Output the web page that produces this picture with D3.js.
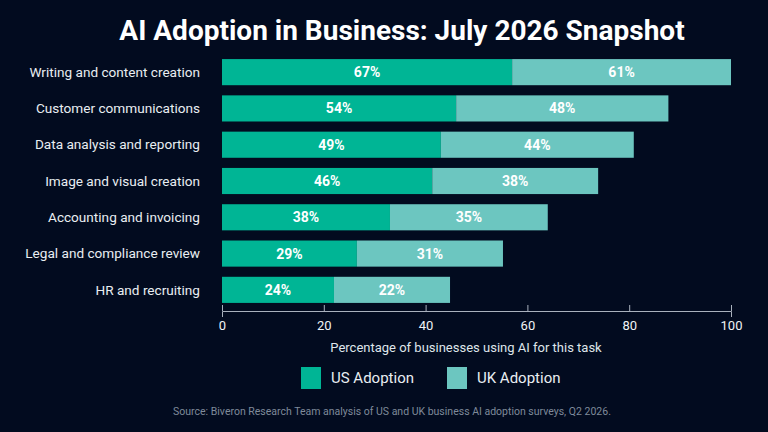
<!DOCTYPE html>
<html>
<head>
<meta charset="utf-8">
<script src="https://cdn.jsdelivr.net/npm/d3@7"></script>
<style>
  html, body { margin: 0; padding: 0; background: #020b1f; }
  svg { display: block; font-family: Roboto, "Noto Sans", sans-serif; }
</style>
</head>
<body>
<script>
// Task categories (top to bottom)
var categories = [
  "Writing and content creation",
  "Customer communications",
  "Data analysis and reporting",
  "Image and visual creation",
  "Accounting and invoicing",
  "Legal and compliance review",
  "HR and recruiting"
];

// Printed percentages
var usLabels = [67, 54, 49, 46, 38, 29, 24];
var ukLabels = [61, 48, 44, 38, 35, 31, 22];

// Segment lengths as drawn against the 0-100 axis
var usBar = [57, 46, 43, 41.3, 33, 26.5, 22];
var ukBar = [43, 41.7, 37.9, 32.6, 31, 28.7, 22.8];

var xTicks = [0, 20, 40, 60, 80, 100];

var width = 768, height = 432;
var margin = {top: 54, left: 222, right: 37, bottom: 124};

var svg = d3.select("body").append("svg")
    .attr("width", width)
    .attr("height", height);

svg.append("rect")
    .attr("width", width)
    .attr("height", height)
    .attr("fill", "#020b1f");

// title
svg.append("text")
    .attr("x", 402)
    .attr("y", 40)
    .attr("text-anchor", "middle")
    .attr("fill", "#ffffff")
    .style("font-size", "28px")
    .style("font-weight", "bold")
    .text("AI Adoption in Business: July 2026 Snapshot");

var x = d3.scaleLinear()
    .domain([0, 100])
    .range([margin.left, width - margin.right]);

var y = d3.scaleBand()
    .domain(categories)
    .range([margin.top, height - margin.bottom])
    .paddingInner(0.28)
    .paddingOuter(0.14);

var rows = categories.map(function(c, i) {
  return {cat: c, us: usBar[i], uk: ukBar[i], usLab: usLabels[i], ukLab: ukLabels[i]};
});

var row = svg.selectAll(".row")
    .data(rows)
  .enter().append("g")
    .attr("class", "row");

// US segment
row.append("rect")
    .attr("x", x(0))
    .attr("y", function(d) { return y(d.cat); })
    .attr("width", function(d) { return x(d.us) - x(0); })
    .attr("height", y.bandwidth())
    .attr("fill", "#00b595");

// UK segment stacked on top
row.append("rect")
    .attr("x", function(d) { return x(d.us); })
    .attr("y", function(d) { return y(d.cat); })
    .attr("width", function(d) { return x(d.us + d.uk) - x(d.us); })
    .attr("height", y.bandwidth())
    .attr("fill", "#6cc6c0");

row.append("text")
    .attr("x", function(d) { return (x(0) + x(d.us)) / 2; })
    .attr("y", function(d) { return y(d.cat) + y.bandwidth() / 2; })
    .attr("dy", "0.36em")
    .attr("text-anchor", "middle")
    .attr("fill", "#ffffff")
    .style("font-size", "14px")
    .style("font-weight", "bold")
    .text(function(d) { return d.usLab + "%"; });

row.append("text")
    .attr("x", function(d) { return (x(d.us) + x(d.us + d.uk)) / 2; })
    .attr("y", function(d) { return y(d.cat) + y.bandwidth() / 2; })
    .attr("dy", "0.36em")
    .attr("text-anchor", "middle")
    .attr("fill", "#ffffff")
    .style("font-size", "14px")
    .style("font-weight", "bold")
    .text(function(d) { return d.ukLab + "%"; });

// category labels
row.append("text")
    .attr("x", 200)
    .attr("y", function(d) { return y(d.cat) + y.bandwidth() / 2; })
    .attr("dy", "0.35em")
    .attr("text-anchor", "end")
    .attr("fill", "#e9eef2")
    .style("font-size", "13.6px")
    .text(function(d) { return d.cat; });

// x axis
var xAxis = svg.append("g")
    .attr("transform", "translate(0," + 311 + ")")
    .call(d3.axisBottom(x).tickValues(xTicks).tickSize(6).tickSizeOuter(6).tickPadding(4));

xAxis.select(".domain").attr("stroke", "#a9b1bd");
xAxis.selectAll(".tick line").attr("stroke", "#a9b1bd").attr("y1", -6).attr("y2", 0);
xAxis.selectAll(".tick text")
    .attr("fill", "#f0f3f6")
    .style("font-size", "13px")
    .style("font-family", "Roboto, sans-serif");

svg.append("text")
    .attr("x", 466)
    .attr("y", 352)
    .attr("text-anchor", "middle")
    .attr("fill", "#dfe5ea")
    .style("font-size", "13px")
    .text("Percentage of businesses using AI for this task");

// legend
var legendItems = [
  {name: "US Adoption", color: "#00b595", x: 301},
  {name: "UK Adoption", color: "#6cc6c0", x: 447}
];

var legend = svg.selectAll(".legend")
    .data(legendItems)
  .enter().append("g")
    .attr("class", "legend")
    .attr("transform", function(d) { return "translate(" + d.x + ",367)"; });

legend.append("rect")
    .attr("width", 20)
    .attr("height", 22)
    .attr("fill", function(d) { return d.color; });

legend.append("text")
    .attr("x", 30)
    .attr("y", 11)
    .attr("dy", "0.36em")
    .attr("fill", "#e9eef2")
    .style("font-size", "15px")
    .text(function(d) { return d.name; });

// source
svg.append("text")
    .attr("x", 392)
    .attr("y", 415)
    .attr("text-anchor", "middle")
    .attr("fill", "#7f8a9a")
    .style("font-size", "10.5px")
    .text("Source:  Biveron Research Team analysis of US and UK business AI adoption surveys, Q2 2026.");
</script>
</body>
</html>
